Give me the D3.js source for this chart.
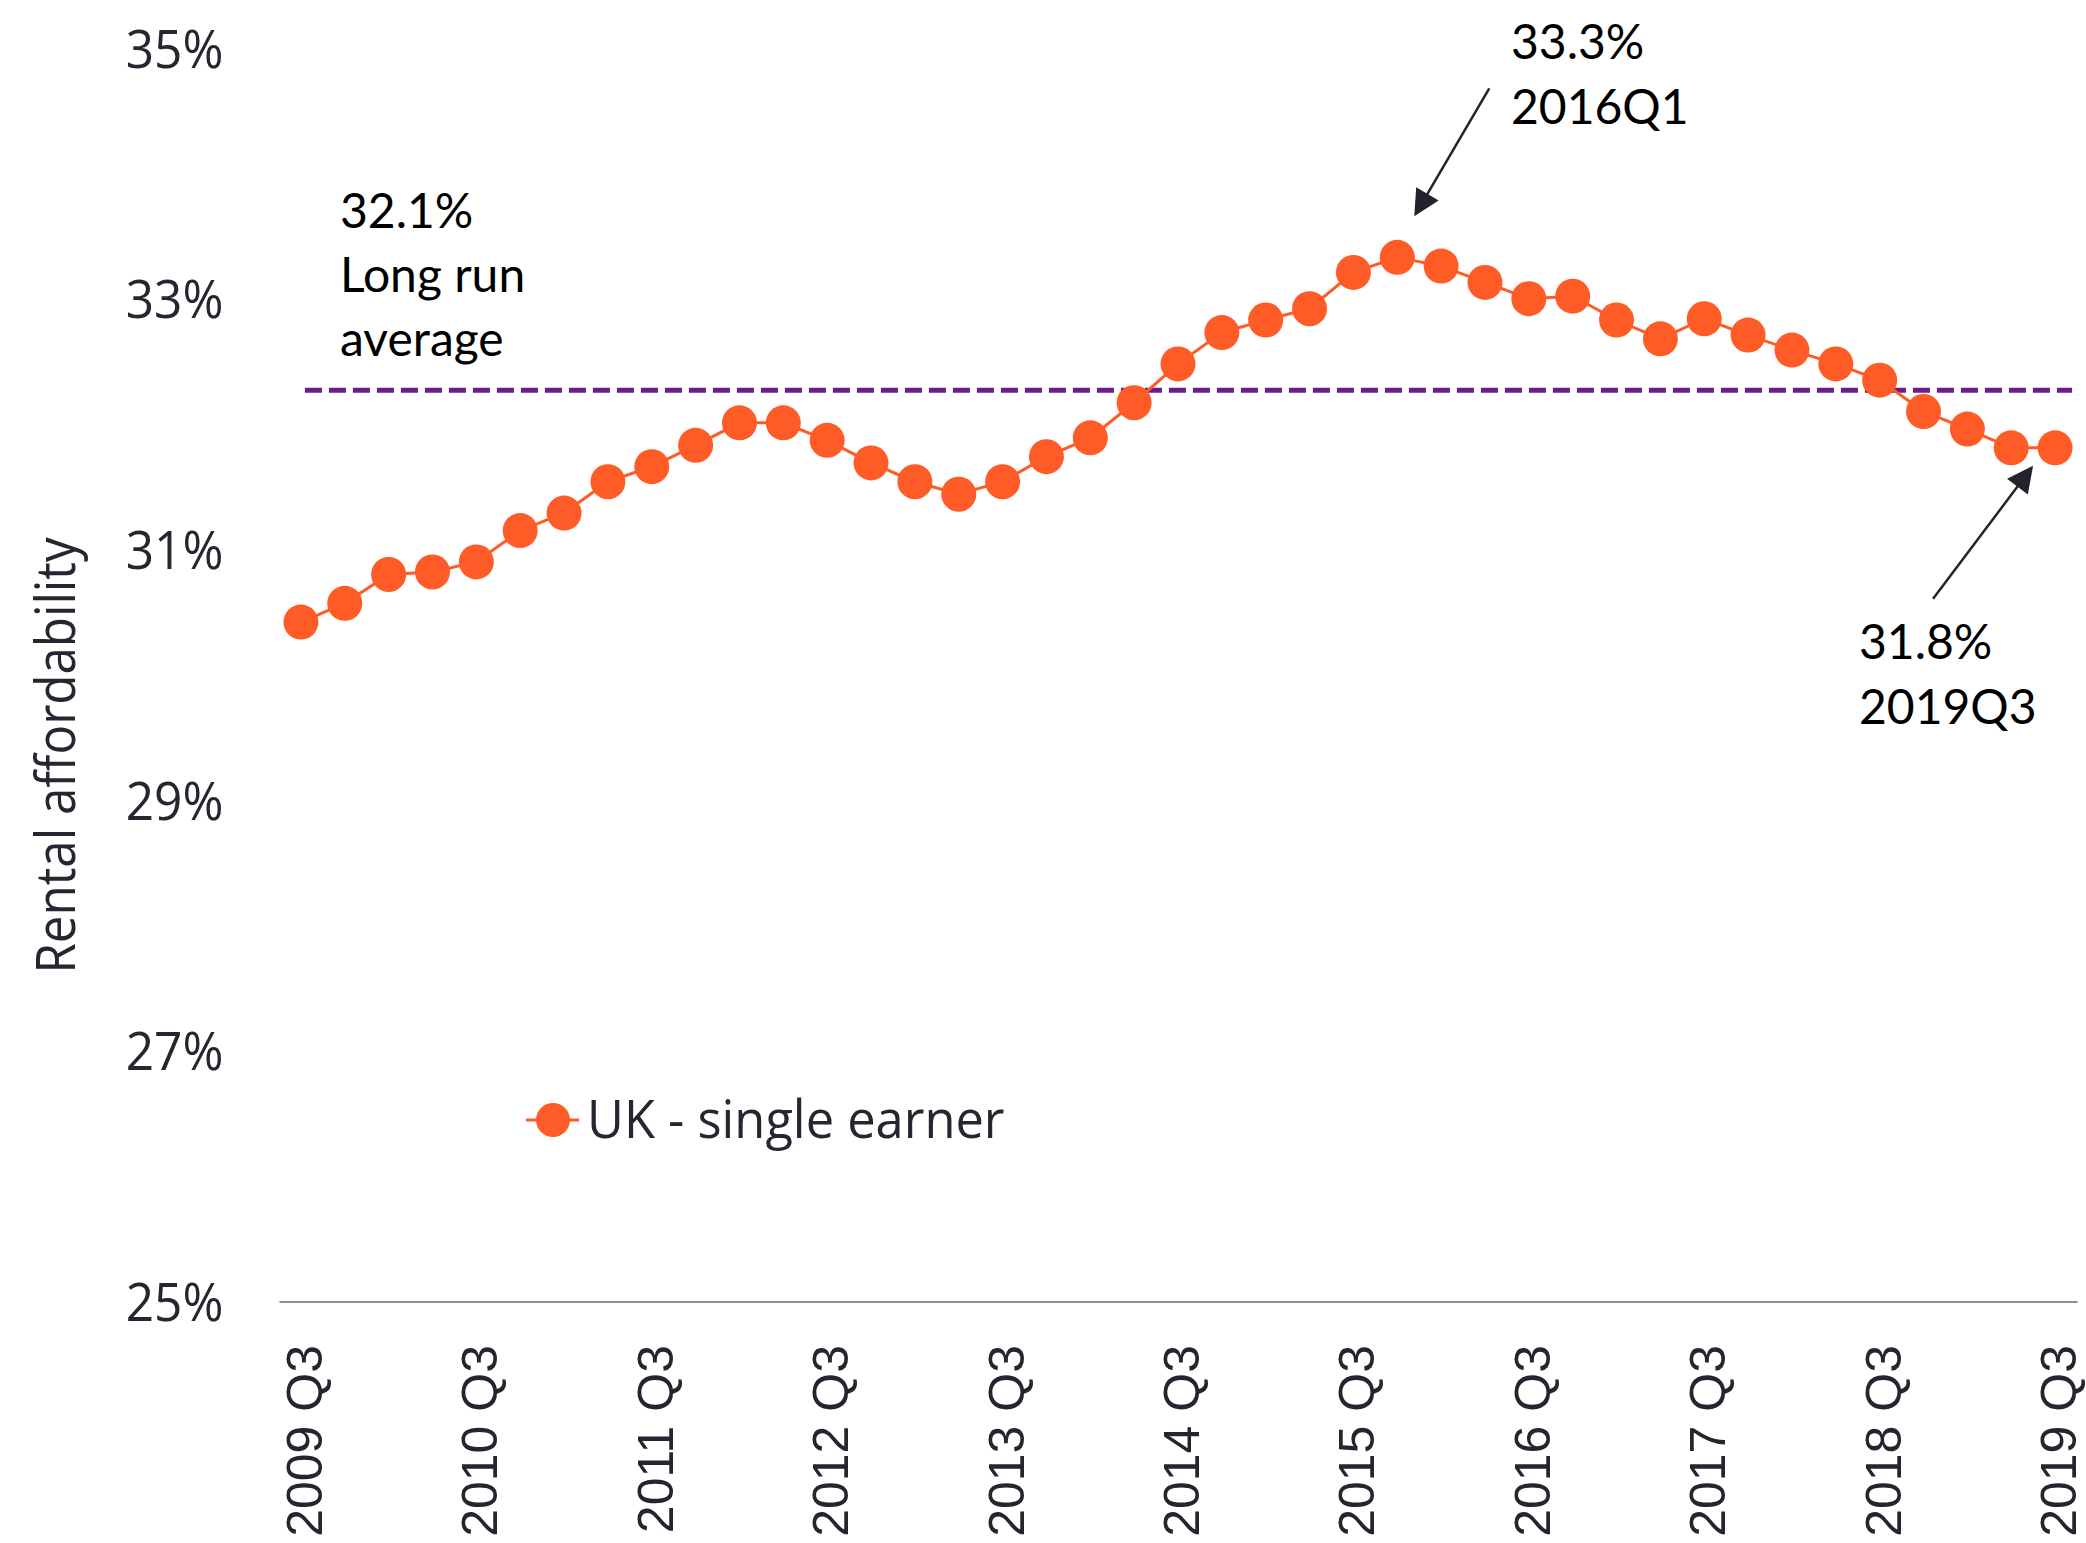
<!DOCTYPE html>
<html>
<head>
<meta charset="utf-8">
<script src="https://cdn.jsdelivr.net/npm/d3@7"></script>
<style>
  html, body { margin: 0; padding: 0; background: #ffffff; }
  svg { display: block; }
</style>
</head>
<body>
<svg id="chart" width="2086" height="1543"></svg>
<script>
// ---------------- DATA ----------------
const quarters = [
  "2009 Q3","2009 Q4","2010 Q1","2010 Q2","2010 Q3","2010 Q4","2011 Q1","2011 Q2",
  "2011 Q3","2011 Q4","2012 Q1","2012 Q2","2012 Q3","2012 Q4","2013 Q1","2013 Q2",
  "2013 Q3","2013 Q4","2014 Q1","2014 Q2","2014 Q3","2014 Q4","2015 Q1","2015 Q2",
  "2015 Q3","2015 Q4","2016 Q1","2016 Q2","2016 Q3","2016 Q4","2017 Q1","2017 Q2",
  "2017 Q3","2017 Q4","2018 Q1","2018 Q2","2018 Q3","2018 Q4","2019 Q1","2019 Q2",
  "2019 Q3"
];
const ukSingleEarner = [
  30.42,30.57,30.80,30.82,30.90,31.15,31.29,31.54,31.66,31.83,
  32.01,32.01,31.87,31.69,31.54,31.44,31.54,31.74,31.89,32.17,
  32.48,32.73,32.83,32.92,33.21,33.33,33.26,33.13,33.00,33.02,
  32.83,32.68,32.84,32.71,32.59,32.48,32.35,32.10,31.96,31.81,
  31.81
];
const longRunAverage = 32.27;
const yTicks = [25, 27, 29, 31, 33, 35];
const xTickLabels = ["2009 Q3","2010 Q3","2011 Q3","2012 Q3","2013 Q3","2014 Q3",
                     "2015 Q3","2016 Q3","2017 Q3","2018 Q3","2019 Q3"];
const seriesName = "UK - single earner";
const yTitle = "Rental affordability";
const avgLabel = ["32.1%", "Long run", "average"];
const peakLabel = ["33.3%", "2016Q1"];
const lastLabel = ["31.8%", "2019Q3"];

// ---------------- LAYOUT ----------------
const svg = d3.select("#chart");
const plot = { left: 279, right: 2077, top: 48, bottom: 1301.5 };
const orange = "#FF5B26";
const purple = "#6B1B8C";
const textDark = "#262630";

const x = d3.scaleBand().domain(quarters).range([plot.left, plot.right]).padding(0);
const cx = q => x(q) + x.bandwidth() / 2;
const y = d3.scaleLinear().domain([25, 35]).range([plot.bottom, plot.top]);

// y axis (labels only)
const yAxis = svg.append("g")
  .attr("transform", `translate(229,0)`)
  .call(d3.axisLeft(y).tickValues(yTicks).tickSize(0).tickPadding(6)
        .tickFormat(d => d + "%"));
yAxis.select(".domain").remove();
yAxis.selectAll("text")
  .attr("font-family", "'Open Sans', sans-serif")
  .attr("font-size", 53)
  .attr("fill", textDark)
  .attr("dy", "0.36em")
  .attr("transform", "scale(0.935,1)");

// x axis
const xAxis = svg.append("g")
  .attr("transform", `translate(0,${plot.bottom})`)
  .call(d3.axisBottom(x).tickValues(xTickLabels).tickSize(0).tickSizeOuter(0));
xAxis.select(".domain").attr("stroke", "#8E8E96").attr("stroke-width", 2);
xAxis.selectAll("text")
  .attr("font-family", "'Liberation Sans', Arial, sans-serif")
  .attr("font-size", 50)
  .attr("fill", "#25252F")
  .attr("text-anchor", "end")
  .attr("x", -43.5)
  .attr("y", 0)
  .attr("dy", "0.42em")
  .attr("transform", "rotate(-90)");

// y axis title
svg.append("text")
  .attr("transform", "translate(75,755.5) rotate(-90) scale(0.913,1)")
  .attr("text-anchor", "middle")
  .attr("font-family", "'Open Sans', sans-serif")
  .attr("font-size", 54)
  .attr("fill", textDark)
  .text(yTitle);

// long run average dashed line
svg.append("line")
  .attr("x1", cx(quarters[0]) + 4)
  .attr("x2", plot.right - 5)
  .attr("y1", y(longRunAverage))
  .attr("y2", y(longRunAverage))
  .attr("stroke", purple)
  .attr("stroke-width", 5)
  .attr("stroke-dasharray", "17,7");

// series line
const line = d3.line().x((d, i) => cx(quarters[i])).y(d => y(d));
svg.append("path")
  .datum(ukSingleEarner)
  .attr("d", line)
  .attr("fill", "none")
  .attr("stroke", orange)
  .attr("stroke-width", 3);

svg.append("g").selectAll("circle")
  .data(ukSingleEarner)
  .join("circle")
  .attr("cx", (d, i) => cx(quarters[i]))
  .attr("cy", d => y(d))
  .attr("r", 17.5)
  .attr("fill", orange);

// annotation texts
function multiLine(lines, x0, y0, spacing) {
  const t = svg.append("text")
    .attr("font-family", "Lato, 'Open Sans', sans-serif")
    .attr("font-size", 48)
    .attr("fill", "#000000");
  lines.forEach((s, i) => {
    t.append("tspan").attr("x", x0).attr("y", y0 + i * spacing).text(s);
  });
}
multiLine(avgLabel, 340, 228, 64);
multiLine(peakLabel, 1511, 59, 64.5);
multiLine(lastLabel, 1859, 659, 65);

// arrows
function arrow(x1, y1, x2, y2) {
  const ang = Math.atan2(y2 - y1, x2 - x1);
  const hl = 26, hw = 13;
  const bx = x2 - hl * Math.cos(ang), by = y2 - hl * Math.sin(ang);
  svg.append("line")
    .attr("x1", x1).attr("y1", y1).attr("x2", bx + 2 * Math.cos(ang)).attr("y2", by + 2 * Math.sin(ang))
    .attr("stroke", "#23232C").attr("stroke-width", 2.5);
  const px = -Math.sin(ang), py = Math.cos(ang);
  svg.append("path")
    .attr("d", `M${x2},${y2}L${bx + hw * px},${by + hw * py}L${bx - hw * px},${by - hw * py}Z`)
    .attr("fill", "#23232C");
}
const peakIdx = 25, lastIdx = 40;
arrow(cx(quarters[peakIdx]) + 92, y(ukSingleEarner[peakIdx]) - 169,
      cx(quarters[peakIdx]) + 17, y(ukSingleEarner[peakIdx]) - 41);
arrow(cx(quarters[lastIdx]) - 122, y(ukSingleEarner[lastIdx]) + 151,
      cx(quarters[lastIdx]) - 22, y(ukSingleEarner[lastIdx]) + 18);

// legend
const lg = svg.append("g").attr("transform", "translate(553,1120)");
lg.append("line").attr("x1", -27).attr("x2", 26).attr("stroke", orange).attr("stroke-width", 3);
lg.append("circle").attr("r", 17).attr("fill", orange);
svg.append("text")
  .attr("transform", "translate(587,1138) scale(0.955,1)")
  .attr("font-family", "'Open Sans', sans-serif")
  .attr("font-size", 53)
  .attr("fill", textDark)
  .text(seriesName);
</script>
</body>
</html>
